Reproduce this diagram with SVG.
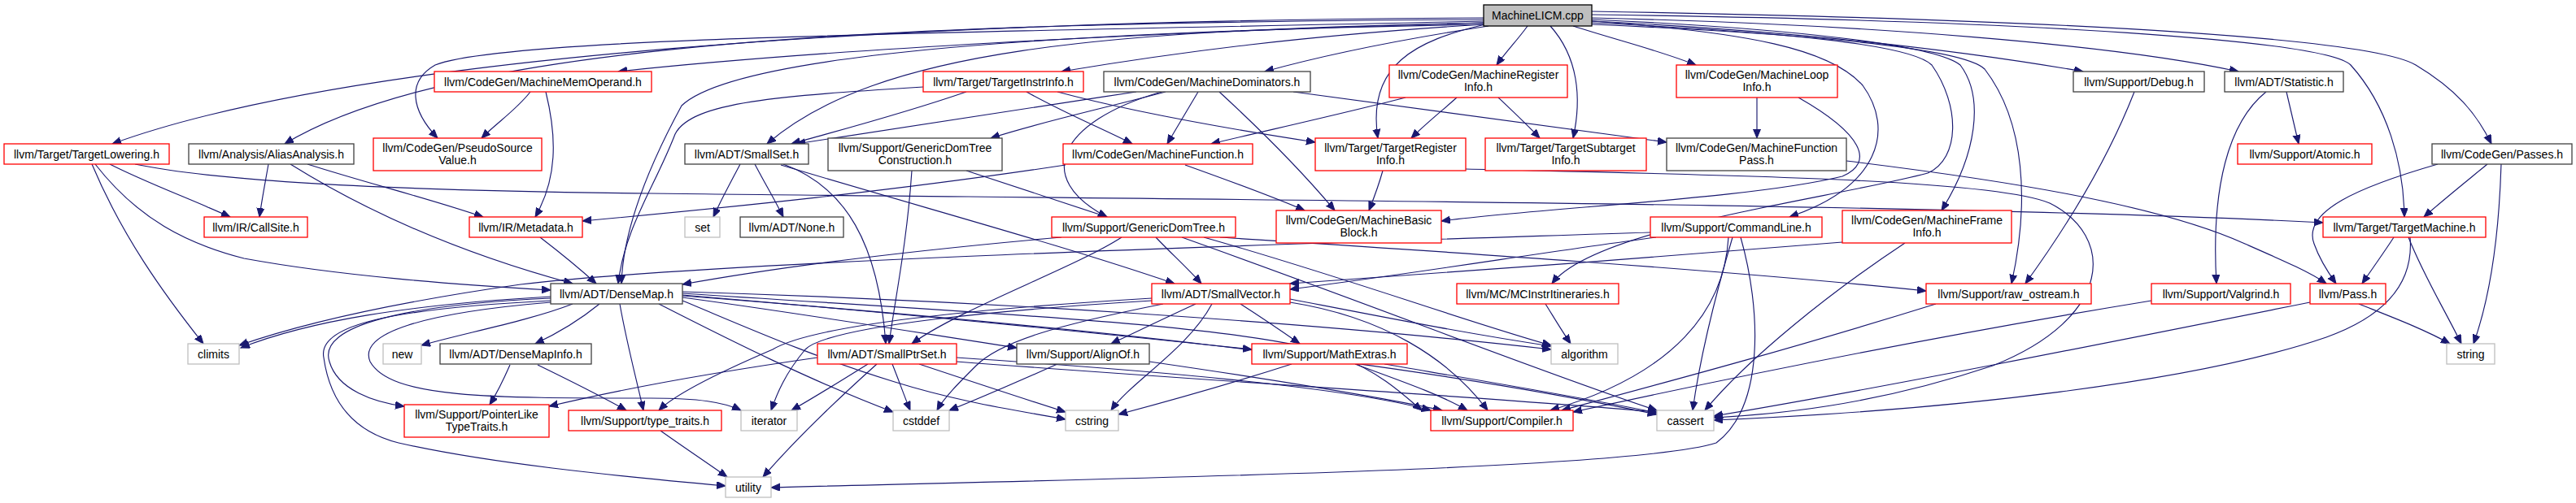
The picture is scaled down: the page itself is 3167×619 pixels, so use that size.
<svg xmlns="http://www.w3.org/2000/svg" width="3167" height="619" viewBox="0 0 3167 619">
<style>
rect.r{fill:#fff;stroke:#ff0000;stroke-width:1.3}
rect.k{fill:#fff;stroke:#404040;stroke-width:1.3}
rect.g{fill:#fff;stroke:#bfbfbf;stroke-width:1.3}
rect.root{fill:#bfbfbf;stroke:#000;stroke-width:1.3}
text{font-family:"Liberation Sans",Arial,sans-serif;font-size:14px;text-anchor:middle;fill:#000}
#edges path{fill:none;stroke:#191970;stroke-width:1.15;marker-end:url(#a)}
</style>
<defs>
<marker id="a" markerWidth="13" markerHeight="11" refX="11" refY="4.5" orient="auto" markerUnits="userSpaceOnUse"><path d="M0,0 L11,4.5 L0,9 z" fill="#191970" stroke="#191970" stroke-width="1"/></marker>
</defs>
<rect width="3167" height="619" fill="#fff"/>
<g id="edges">
<path d="M1824,22 C1100,25 434,69 138,177"/>
<path d="M1824,24 C1100,28 560,50 350,177"/>
<path d="M1824,26 C1200,40 620,45 535,80 C500,100 505,135 538,170"/>
<path d="M1824,28 C1400,40 1000,62 760,88"/>
<path d="M1824,30 C1600,44 1450,64 1305,88"/>
<path d="M1830,32 C1700,52 1620,70 1555,88"/>
<path d="M1824,28 C1350,38 1080,60 943,177"/>
<path d="M1824,30 C1250,40 900,70 838,130 C800,200 766,280 764,349"/>
<path d="M1878,32 C1865,50 1852,63 1840,80"/>
<path d="M1934,32 C1990,50 2040,62 2085,80"/>
<path d="M1826,30 C1740,50 1680,80 1694,170"/>
<path d="M1906,32 C1940,70 1945,120 1934,170"/>
<path d="M1957,26 C2200,38 2400,60 2561,88"/>
<path d="M1957,22 C2300,30 2600,55 2752,88"/>
<path d="M1957,14 C2600,25 2920,50 2970,80 C3020,110 3045,140 3063,177"/>
<path d="M1957,18 C2500,25 2860,50 2890,80 C2935,130 2955,200 2956,267"/>
<path d="M1957,30 C2300,45 2420,65 2440,85 C2490,150 2495,250 2473,349"/>
<path d="M1957,26 C2150,40 2250,60 2290,105 C2330,160 2310,230 2200,267"/>
<path d="M1957,24 C2200,35 2380,55 2410,80 C2440,120 2430,190 2387,259"/>
<path d="M1957,28 C2200,40 2350,55 2375,80 C2410,130 2410,195 2370,213 C2250,245 1960,280 1908,349"/>
<path d="M652,113 C635,135 612,150 592,170"/>
<path d="M671,113 C685,170 685,220 658,267"/>
<path d="M1188,113 C1110,140 1040,158 973,177"/>
<path d="M1262,113 C1310,140 1355,158 1392,177"/>
<path d="M1300,113 C1400,140 1520,160 1617,175"/>
<path d="M1135,107 C960,118 850,125 830,165 C805,230 768,280 760,349"/>
<path d="M1397,113 C1250,135 1100,158 979,177"/>
<path d="M1433,113 C1350,135 1280,150 1218,170"/>
<path d="M1473,113 C1460,135 1448,155 1435,177"/>
<path d="M1428,113 C1300,150 1270,220 1361,267"/>
<path d="M1499,113 C1550,160 1600,210 1641,259"/>
<path d="M1590,113 C1750,135 1900,155 2049,175"/>
<path d="M1728,120 C1650,140 1560,160 1489,177"/>
<path d="M1791,120 C1772,137 1752,153 1735,170"/>
<path d="M1842,120 C1860,137 1877,153 1893,170"/>
<path d="M2160,120 L2160,170"/>
<path d="M2211,120 C2290,165 2305,200 2265,217 C2150,245 1900,255 1772,272"/>
<path d="M2624,113 C2590,200 2540,280 2490,349"/>
<path d="M2811,113 C2816,135 2821,155 2826,177"/>
<path d="M2786,113 C2740,150 2718,230 2725,349"/>
<path d="M135,202 C180,225 235,245 283,267"/>
<path d="M113,202 C150,290 200,360 250,423"/>
<path d="M117,202 C170,270 230,300 300,318 C420,340 560,350 677,357"/>
<path d="M166,202 C300,230 600,236 800,238 C1400,245 2400,250 2856,274"/>
<path d="M330,202 C326,225 322,245 319,267"/>
<path d="M378,202 C450,225 530,245 594,267"/>
<path d="M357,202 C450,260 560,310 704,349"/>
<path d="M910,202 C898,225 887,245 877,267"/>
<path d="M928,202 C940,225 952,245 963,267"/>
<path d="M963,202 C1040,230 1080,300 1089,423"/>
<path d="M960,203 C1150,260 1300,300 1444,349"/>
<path d="M1188,210 C1250,230 1310,250 1361,267"/>
<path d="M1121,210 C1115,300 1100,370 1093,423"/>
<path d="M1310,203 C1100,235 900,255 716,272"/>
<path d="M1457,203 C1510,222 1560,240 1604,259"/>
<path d="M1700,210 C1695,228 1689,244 1683,259"/>
<path d="M1802,208 C2100,215 2450,220 2520,250 C2600,290 2600,390 2450,450 C2300,500 2180,510 2107,514"/>
<path d="M2270,198 C2450,220 2650,250 2760,300 C2810,322 2840,335 2860,349"/>
<path d="M3058,202 C3030,225 3005,245 2980,267"/>
<path d="M2997,202 C2900,230 2830,260 2845,300 C2852,320 2862,335 2872,349"/>
<path d="M3075,202 C3072,300 3060,370 3041,423"/>
<path d="M2943,292 C2930,312 2917,330 2904,349"/>
<path d="M2961,292 C2980,340 3005,380 3026,423"/>
<path d="M2963,292 C2968,350 2930,390 2860,415 C2700,470 2400,505 2107,517"/>
<path d="M1305,292 C1100,310 950,330 839,350"/>
<path d="M1421,292 C1440,312 1460,330 1477,349"/>
<path d="M1379,292 C1320,330 1180,380 1121,423"/>
<path d="M1500,292 C1700,305 2100,330 2368,358"/>
<path d="M1480,292 C1650,340 1800,395 1907,425"/>
<path d="M1453,292 C1700,380 1900,460 2037,505"/>
<path d="M664,292 C690,312 712,330 733,349"/>
<path d="M2029,286 C1600,300 900,320 640,350 C500,370 380,395 294,425"/>
<path d="M2036,292 C1900,310 1750,335 1586,356"/>
<path d="M2125,292 C2120,380 2060,460 1906,505"/>
<path d="M2130,292 C2110,360 2090,440 2081,505"/>
<path d="M2140,292 C2165,380 2170,500 2110,545 C2000,580 1300,590 948,600"/>
<path d="M2265,298 C2050,315 1800,335 1586,349"/>
<path d="M2342,299 C2250,360 2150,440 2096,505"/>
<path d="M1900,374 C1910,390 1920,407 1931,423"/>
<path d="M2380,374 C2200,430 2050,470 1920,505"/>
<path d="M2645,370 C2400,410 2150,460 1934,507"/>
<path d="M2840,372 C2600,420 2300,480 2107,512"/>
<path d="M2900,374 C2940,390 2980,405 3012,423"/>
<path d="M677,365 C500,375 380,395 296,428"/>
<path d="M704,374 C650,395 570,410 518,425"/>
<path d="M737,374 C715,392 690,408 658,423"/>
<path d="M762,374 C770,420 782,465 791,505"/>
<path d="M677,367 C500,375 390,400 405,445 C415,480 460,495 497,500"/>
<path d="M677,370 C480,380 390,400 398,440 C405,490 430,530 490,545 C600,570 750,585 892,598"/>
<path d="M677,372 C520,385 440,410 455,445 C480,490 600,490 800,490 C860,490 890,495 911,505"/>
<path d="M810,374 C900,420 1000,470 1098,507"/>
<path d="M839,370 C900,395 1000,440 1100,470 C1180,495 1250,505 1310,516"/>
<path d="M839,366 C980,385 1120,408 1250,428"/>
<path d="M839,363 C1100,385 1350,410 1539,430"/>
<path d="M839,361 C1200,385 1550,400 1650,440 C1700,460 1730,490 1748,505"/>
<path d="M839,364 C1300,400 1700,440 2037,510"/>
<path d="M839,359 C1200,370 1600,395 1907,430"/>
<path d="M627,449 C620,465 612,482 602,498"/>
<path d="M661,449 C700,468 740,488 770,505"/>
<path d="M1416,367 C1200,380 1000,400 950,430 C880,460 830,485 810,505"/>
<path d="M1416,370 C1250,380 1020,400 990,430 C965,460 955,485 948,505"/>
<path d="M1430,374 C1300,400 1230,420 1200,450 C1180,470 1160,490 1152,505"/>
<path d="M1470,374 C1435,390 1400,407 1366,423"/>
<path d="M1490,374 C1460,430 1390,470 1366,505"/>
<path d="M1525,374 C1550,390 1575,407 1598,423"/>
<path d="M1586,372 C1700,390 1780,440 1829,505"/>
<path d="M1586,368 C1700,390 1800,410 1907,426"/>
<path d="M1005,440 C900,455 780,475 675,500"/>
<path d="M1067,448 C1035,468 1003,488 973,505"/>
<path d="M1097,448 C1105,468 1112,488 1119,505"/>
<path d="M1078,448 C1020,500 970,550 938,587"/>
<path d="M1130,448 C1190,468 1250,488 1310,507"/>
<path d="M1176,440 C1400,455 1650,475 1759,505"/>
<path d="M1176,445 C1500,470 1850,490 2037,507"/>
<path d="M1300,448 C1255,468 1210,488 1167,505"/>
<path d="M1413,445 C1550,465 1680,485 1773,505"/>
<path d="M1666,448 C1720,468 1770,485 1804,505"/>
<path d="M1702,448 C1830,470 1950,490 2037,508"/>
<path d="M1588,448 C1520,470 1450,490 1375,510"/>
<path d="M812,530 C840,550 870,570 894,587"/>
</g>
<g id="n0"><rect class="root" x="1824" y="6" width="133" height="26"/><text x="1890.5" y="23.5">MachineLICM.cpp</text></g>
<g id="mmo"><rect class="r" x="534" y="88" width="267" height="25"/><text x="667.5" y="105.5">llvm/CodeGen/MachineMemOperand.h</text></g>
<g id="tii"><rect class="r" x="1135" y="88" width="197" height="25"/><text x="1233.5" y="105.5">llvm/Target/TargetInstrInfo.h</text></g>
<g id="mdom"><rect class="k" x="1357" y="88" width="254" height="25"/><text x="1484" y="105.5">llvm/CodeGen/MachineDominators.h</text></g>
<g id="mri"><rect class="r" x="1708" y="80" width="219" height="40"/><text x="1817.5" y="97">llvm/CodeGen/MachineRegister</text><text x="1817.5" y="112">Info.h</text></g>
<g id="mli"><rect class="r" x="2061" y="80" width="198" height="40"/><text x="2160" y="97">llvm/CodeGen/MachineLoop</text><text x="2160" y="112">Info.h</text></g>
<g id="dbg"><rect class="k" x="2549" y="88" width="161" height="25"/><text x="2629.5" y="105.5">llvm/Support/Debug.h</text></g>
<g id="stat"><rect class="k" x="2735" y="88" width="146" height="25"/><text x="2808" y="105.5">llvm/ADT/Statistic.h</text></g>
<g id="tl"><rect class="r" x="5" y="177" width="203" height="25"/><text x="106.5" y="194.5">llvm/Target/TargetLowering.h</text></g>
<g id="aa"><rect class="k" x="232" y="177" width="203" height="25"/><text x="333.5" y="194.5">llvm/Analysis/AliasAnalysis.h</text></g>
<g id="psv"><rect class="r" x="459" y="170" width="207" height="40"/><text x="562.5" y="187">llvm/CodeGen/PseudoSource</text><text x="562.5" y="202">Value.h</text></g>
<g id="ss"><rect class="k" x="842" y="177" width="152" height="25"/><text x="918" y="194.5">llvm/ADT/SmallSet.h</text></g>
<g id="gdtc"><rect class="k" x="1018" y="170" width="214" height="40"/><text x="1125" y="187">llvm/Support/GenericDomTree</text><text x="1125" y="202">Construction.h</text></g>
<g id="mf"><rect class="r" x="1307" y="177" width="233" height="25"/><text x="1423.5" y="194.5">llvm/CodeGen/MachineFunction.h</text></g>
<g id="tri"><rect class="r" x="1617" y="170" width="185" height="40"/><text x="1709.5" y="187">llvm/Target/TargetRegister</text><text x="1709.5" y="202">Info.h</text></g>
<g id="tsi"><rect class="r" x="1826" y="170" width="198" height="40"/><text x="1925" y="187">llvm/Target/TargetSubtarget</text><text x="1925" y="202">Info.h</text></g>
<g id="mfp"><rect class="k" x="2049" y="170" width="221" height="40"/><text x="2159.5" y="187">llvm/CodeGen/MachineFunction</text><text x="2159.5" y="202">Pass.h</text></g>
<g id="atomic"><rect class="r" x="2751" y="177" width="165" height="25"/><text x="2833.5" y="194.5">llvm/Support/Atomic.h</text></g>
<g id="passes"><rect class="k" x="2990" y="177" width="172" height="25"/><text x="3076" y="194.5">llvm/CodeGen/Passes.h</text></g>
<g id="cs"><rect class="r" x="251" y="267" width="127" height="25"/><text x="314.5" y="284.5">llvm/IR/CallSite.h</text></g>
<g id="md"><rect class="r" x="577" y="267" width="139" height="25"/><text x="646.5" y="284.5">llvm/IR/Metadata.h</text></g>
<g id="set"><rect class="g" x="842" y="267" width="43" height="25"/><text x="863.5" y="284.5">set</text></g>
<g id="none"><rect class="k" x="910" y="267" width="127" height="25"/><text x="973.5" y="284.5">llvm/ADT/None.h</text></g>
<g id="gdt"><rect class="r" x="1293" y="267" width="226" height="25"/><text x="1406" y="284.5">llvm/Support/GenericDomTree.h</text></g>
<g id="mbb"><rect class="r" x="1569" y="259" width="203" height="40"/><text x="1670.5" y="276">llvm/CodeGen/MachineBasic</text><text x="1670.5" y="291">Block.h</text></g>
<g id="cl"><rect class="r" x="2029" y="267" width="211" height="25"/><text x="2134.5" y="284.5">llvm/Support/CommandLine.h</text></g>
<g id="mfi"><rect class="r" x="2265" y="259" width="208" height="40"/><text x="2369" y="276">llvm/CodeGen/MachineFrame</text><text x="2369" y="291">Info.h</text></g>
<g id="tm"><rect class="r" x="2856" y="267" width="200" height="25"/><text x="2956" y="284.5">llvm/Target/TargetMachine.h</text></g>
<g id="dm"><rect class="k" x="677" y="349" width="162" height="25"/><text x="758" y="366.5">llvm/ADT/DenseMap.h</text></g>
<g id="sv"><rect class="r" x="1416" y="349" width="170" height="25"/><text x="1501" y="366.5">llvm/ADT/SmallVector.h</text></g>
<g id="mcii"><rect class="r" x="1791" y="349" width="199" height="25"/><text x="1890.5" y="366.5">llvm/MC/MCInstrItineraries.h</text></g>
<g id="ros"><rect class="r" x="2368" y="349" width="203" height="25"/><text x="2469.5" y="366.5">llvm/Support/raw_ostream.h</text></g>
<g id="vg"><rect class="r" x="2645" y="349" width="171" height="25"/><text x="2730.5" y="366.5">llvm/Support/Valgrind.h</text></g>
<g id="pass"><rect class="r" x="2840" y="349" width="93" height="25"/><text x="2886.5" y="366.5">llvm/Pass.h</text></g>
<g id="climits"><rect class="g" x="231" y="423" width="63" height="25"/><text x="262.5" y="440.5">climits</text></g>
<g id="new"><rect class="g" x="471" y="423" width="47" height="25"/><text x="494.5" y="440.5">new</text></g>
<g id="dmi"><rect class="k" x="541" y="423" width="186" height="25"/><text x="634" y="440.5">llvm/ADT/DenseMapInfo.h</text></g>
<g id="sps"><rect class="r" x="1005" y="423" width="171" height="25"/><text x="1090.5" y="440.5">llvm/ADT/SmallPtrSet.h</text></g>
<g id="ao"><rect class="k" x="1250" y="423" width="163" height="25"/><text x="1331.5" y="440.5">llvm/Support/AlignOf.h</text></g>
<g id="me"><rect class="r" x="1539" y="423" width="191" height="25"/><text x="1634.5" y="440.5">llvm/Support/MathExtras.h</text></g>
<g id="algorithm"><rect class="g" x="1907" y="423" width="82" height="25"/><text x="1948" y="440.5">algorithm</text></g>
<g id="string"><rect class="g" x="3008" y="423" width="59" height="25"/><text x="3037.5" y="440.5">string</text></g>
<g id="pltt"><rect class="r" x="497" y="498" width="178" height="40"/><text x="586" y="515">llvm/Support/PointerLike</text><text x="586" y="530">TypeTraits.h</text></g>
<g id="tt"><rect class="r" x="699" y="505" width="188" height="25"/><text x="793" y="522.5">llvm/Support/type_traits.h</text></g>
<g id="iterator"><rect class="g" x="911" y="505" width="69" height="25"/><text x="945.5" y="522.5">iterator</text></g>
<g id="cstddef"><rect class="g" x="1098" y="505" width="69" height="25"/><text x="1132.5" y="522.5">cstddef</text></g>
<g id="cstring"><rect class="g" x="1310" y="505" width="65" height="25"/><text x="1342.5" y="522.5">cstring</text></g>
<g id="compiler"><rect class="r" x="1759" y="505" width="175" height="25"/><text x="1846.5" y="522.5">llvm/Support/Compiler.h</text></g>
<g id="cassert"><rect class="g" x="2037" y="505" width="70" height="25"/><text x="2072" y="522.5">cassert</text></g>
<g id="utility"><rect class="g" x="892" y="587" width="56" height="25"/><text x="920" y="604.5">utility</text></g>
</svg>
